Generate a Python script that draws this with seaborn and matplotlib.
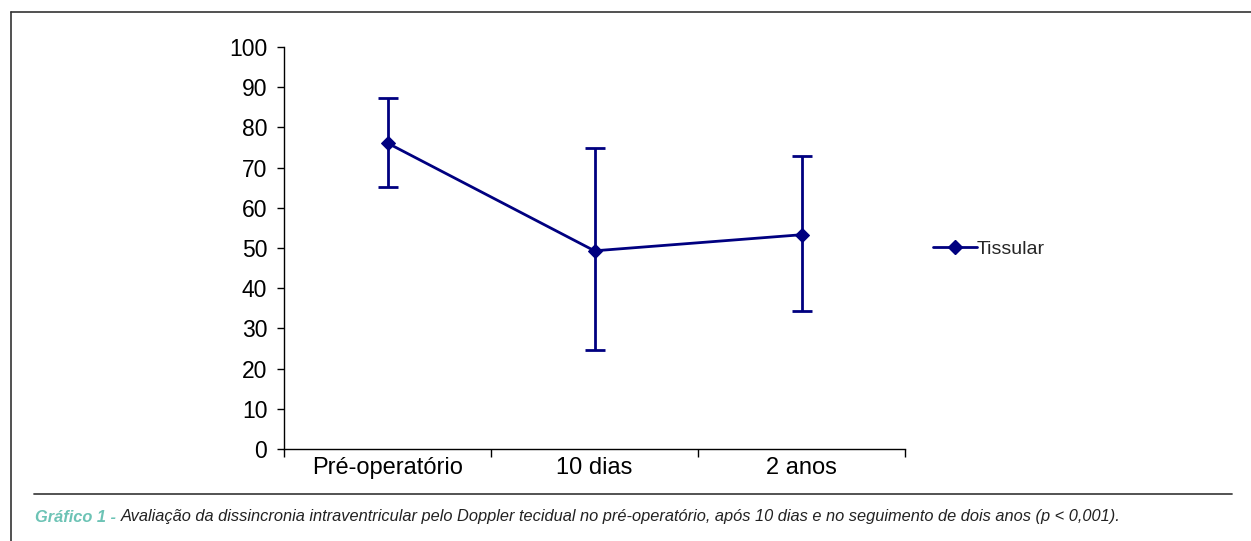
import matplotlib
matplotlib.use("Agg")
import matplotlib.pyplot as plt
import seaborn as sns
import pandas as pd
from matplotlib.lines import Line2D

categories = ["Pré-operatório", "10 dias", "2 anos"]
means = [76.1, 49.3, 53.3]
upper = [87.3, 74.8, 73.0]
lower = [65.2, 24.6, 34.4]
series_name = "Tissular"
yticks = [0, 10, 20, 30, 40, 50, 60, 70, 80, 90, 100]

color = "#000080"

sns.set_theme(style="white")
plt.rcParams['font.family'] = ['Liberation Sans', 'DejaVu Sans']

W, H = 1251, 541
fig = plt.figure(figsize=(W / 100, H / 100), dpi=100)
ax = fig.add_axes([284 / W, 1 - 449 / H, (905 - 284) / W, (449 - 47) / H])

pos = list(range(len(categories)))
df = pd.DataFrame({"pos": pos, "val": means})
sns.lineplot(data=df, x="pos", y="val", ax=ax, color=color, lw=2,
             marker="D", markersize=7.5, markeredgecolor=color, legend=False)
yerr = [[m - l for m, l in zip(means, lower)], [u - m for m, u in zip(means, upper)]]
ax.errorbar(pos, means, yerr=yerr, fmt="none", ecolor=color, elinewidth=2,
            capsize=7, capthick=2)

ax.set_xlim(-0.5, len(categories) - 0.5)
ax.set_ylim(0, 100)
ax.set_yticks(yticks)
ax.set_yticklabels([str(t) for t in yticks], fontsize=16.5, color="black")
ax.set_xticks([p - 0.5 for p in pos] + [len(categories) - 0.5])
ax.set_xticklabels([])
ax.set_xticks(pos, minor=True)
ax.set_xticklabels(categories, minor=True, fontsize=17, color="black")
ax.tick_params(axis="x", which="minor", bottom=True, length=0, pad=6)
ax.tick_params(axis="x", which="major", bottom=True, length=6, width=1, color="black", direction="out")
ax.tick_params(axis="y", left=True, length=5, width=1, color="black", direction="out", pad=7)
ax.set_xlabel("")
ax.set_ylabel("")
for s in ["top", "right"]:
    ax.spines[s].set_visible(False)
for s in ["left", "bottom"]:
    ax.spines[s].set_color("black")
    ax.spines[s].set_linewidth(1)

# legend
handle = Line2D([0], [0], color=color, lw=2, marker="D", markersize=7.5)
fig.legend([handle], [series_name], loc="center left",
           bbox_to_anchor=(933 / W, 1 - 249 / H), frameon=False,
           fontsize=14, handlelength=2.25, handletextpad=0.0, borderpad=0,
           borderaxespad=0)

# outer frame
fig.add_artist(Line2D([11 / W, 1.0], [1 - 12 / H, 1 - 12 / H], color="#333333", lw=1.2,
                      transform=fig.transFigure))
fig.add_artist(Line2D([11 / W, 11 / W], [1 - 12 / H, 0], color="#333333", lw=1.2,
                      transform=fig.transFigure))
# caption separator
fig.add_artist(Line2D([34 / W, 1232 / W], [1 - 494 / H, 1 - 494 / H], color="#444444", lw=1.3,
                      transform=fig.transFigure))

cap_fs = 11.8
t1 = fig.text(35 / W, 1 - 517 / H, "Gráfico 1 - ", color="#6cc3b5", fontsize=cap_fs,
              fontstyle="italic", fontweight="bold", va="center", ha="left")
fig.canvas.draw()
bb = t1.get_window_extent()
fig.text(bb.x1 / W, 1 - 517 / H,
         "Avaliação da dissincronia intraventricular pelo Doppler tecidual no pré-operatório, após 10 dias e no seguimento de dois anos (p < 0,001).",
         color="#222222", fontsize=cap_fs, fontstyle="italic", va="center", ha="left")

fig.savefig("out.png", dpi=100, facecolor="white")
